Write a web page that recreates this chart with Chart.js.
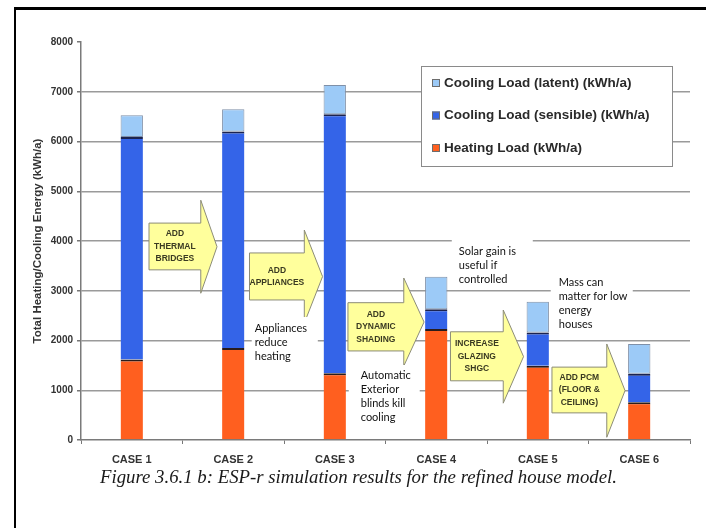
<!DOCTYPE html>
<html>
<head>
<meta charset="utf-8">
<title>ESP-r simulation results</title>
<script src="https://cdn.jsdelivr.net/npm/chart.js@4.4.1/dist/chart.umd.min.js"></script>
<style>
  html, body { margin: 0; padding: 0; background: #fff; }
  #wrap { position: relative; width: 706px; height: 528px; overflow: hidden; }
  #frame { position: absolute; left: 14px; top: 7px; right: -10px; bottom: -10px;
           border-top: 3px solid #000; border-left: 2px solid #000; pointer-events: none; }
  #caption { position: absolute; left: 100px; top: 466px; font: italic 18.8px 'Liberation Serif', 'Times New Roman', serif;
             color: #1a1a1a; white-space: nowrap; }
</style>
</head>
<body>
<div id="wrap">
  <canvas id="chart" width="706" height="528"></canvas>
  <div id="frame"></div>
  <div id="caption">Figure 3.6.1 b: ESP-r simulation results for the refined house model.</div>
</div>
<script>
// kWh/a per case, stacked bottom to top
const cases    = ['CASE 1', 'CASE 2', 'CASE 3', 'CASE 4', 'CASE 5', 'CASE 6'];
const heating  = [1620, 1850, 1340, 2230, 1490, 760];
const sensible = [4470, 4350, 5210, 400, 670, 570];
const latent   = [440, 450, 585, 650, 620, 600];
const yTicks   = [0, 1000, 2000, 3000, 4000, 5000, 6000, 7000, 8000];

// block arrows between cases (x in category index, y in kWh/a)
const steps = [
  { lines: ['ADD', 'THERMAL', 'BRIDGES'],      x: [0.17, 0.68, 0.84], body: [4360, 3420], head: [4820, 2950] },
  { lines: ['ADD', 'APPLIANCES'],              x: [1.16, 1.70, 1.88], body: [3760, 2815], head: [4220, 2350] },
  { lines: ['ADD', 'DYNAMIC', 'SHADING'],      x: [2.13, 2.68, 2.88], body: [2760, 1790], head: [3256, 1487] },
  { lines: ['INCREASE', 'GLAZING', 'SHGC'],    x: [3.14, 3.66, 3.86], body: [2175, 1190], head: [2613, 740] },
  { lines: ['ADD PCM', '(FLOOR &', 'CEILING)'], x: [4.14, 4.68, 4.86], body: [1465, 545],  head: [1930, 55] }
];

// commentary boxes
const notes = [
  { lines: ['Appliances', 'reduce', 'heating'],             box: [1.182, 1.833, 2472, 1367], tx: 1.212, ty: 2251 },
  { lines: ['Automatic', 'Exterior', 'blinds kill', 'cooling'], box: [2.138, 2.837, 1508, 201], tx: 2.256, ty: 1307 },
  { lines: ['Solar gain is', 'useful if', 'controlled'],    box: [3.153, 3.951, 4101, 3055], tx: 3.222, ty: 3799 },
  { lines: ['Mass can', 'matter for low', 'energy', 'houses'], box: [4.128, 4.936, 3377, 2131], tx: 4.207, ty: 3176 }
];

const annotate = {
  id: 'annotate',
  afterDatasetsDraw(chart) {
    const ctx = chart.ctx;
    const xs = chart.scales.x, ys = chart.scales.y;
    const px = v => xs.getPixelForValue(v);
    const py = v => ys.getPixelForValue(v);

    // arrows
    steps.forEach(s => {
      const x0 = px(s.x[0]), x1 = px(s.x[1]), x2 = px(s.x[2]);
      const bt = py(s.body[0]), bb = py(s.body[1]);
      const ht = py(s.head[0]), hb = py(s.head[1]);
      const tipY = (ht + hb) / 2;
      ctx.save();
      ctx.beginPath();
      ctx.moveTo(x0, bt);
      ctx.lineTo(x1, bt);
      ctx.lineTo(x1, ht);
      ctx.lineTo(x2, tipY);
      ctx.lineTo(x1, hb);
      ctx.lineTo(x1, bb);
      ctx.lineTo(x0, bb);
      ctx.closePath();
      ctx.fillStyle = '#ffff9c';
      ctx.fill();
      ctx.strokeStyle = '#8c8c78';
      ctx.lineWidth = 1;
      ctx.stroke();
      ctx.fillStyle = '#3a3a22';
      ctx.font = 'bold 8.5px "Liberation Sans", Arial, sans-serif';
      ctx.textAlign = 'center';
      ctx.textBaseline = 'middle';
      const cx = (x0 + x1) / 2, cy = (bt + bb) / 2;
      const lh = 12.5;
      s.lines.forEach((t, i) => {
        ctx.fillText(t, cx, cy + (i - (s.lines.length - 1) / 2) * lh);
      });
      ctx.restore();
    });

    // white text boxes
    notes.forEach(n => {
      const l = px(n.box[0]), r = px(n.box[1]);
      const t = py(n.box[2]), b = py(n.box[3]);
      ctx.save();
      ctx.fillStyle = '#fff';
      ctx.fillRect(l, t, r - l, b - t);
      ctx.fillStyle = '#111';
      ctx.font = '11px Lato, "Open Sans", sans-serif';
      ctx.textAlign = 'left';
      ctx.textBaseline = 'middle';
      const x = px(n.tx), y = py(n.ty);
      n.lines.forEach((line, i) => ctx.fillText(line, x, y + i * 14));
      ctx.restore();
    });

    // legend box (top series first)
    const lx = 421, ly = 66, lw = 251, lhgt = 100;
    ctx.save();
    ctx.fillStyle = '#fff';
    ctx.fillRect(lx, ly, lw, lhgt);
    ctx.strokeStyle = '#8a8a8a';
    ctx.lineWidth = 1;
    ctx.strokeRect(lx + 0.5, ly + 0.5, lw, lhgt);
    ctx.font = 'bold 13.5px "Liberation Sans", Arial, sans-serif';
    ctx.textAlign = 'left';
    ctx.textBaseline = 'middle';
    const ds = chart.data.datasets.slice().reverse();
    ds.forEach((d, i) => {
      const y = ly + 17 + i * 32.5;
      ctx.fillStyle = d.backgroundColor;
      ctx.fillRect(lx + 11, y - 4, 8, 8);
      ctx.strokeStyle = '#6d6d6d';
      ctx.strokeRect(lx + 11.5, y - 3.5, 7, 7);
      ctx.fillStyle = '#2a2a2a';
      ctx.fillText(d.label, lx + 23, y);
    });
    ctx.restore();
  }
};

new Chart(document.getElementById('chart'), {
  type: 'bar',
  data: {
    labels: cases,
    datasets: [
      { label: 'Heating Load (kWh/a)', data: heating, backgroundColor: '#ff5f1f',
        borderColor: '#2a1c1c', borderWidth: { top: 2 }, borderSkipped: false },
      { label: 'Cooling Load (sensible) (kWh/a)', data: sensible, backgroundColor: '#3464e8',
        borderColor: '#1c2450', borderWidth: { top: 2 }, borderSkipped: false },
      { label: 'Cooling Load (latent) (kWh/a)', data: latent, backgroundColor: '#9ccaf7',
        borderColor: '#7f90a8', borderWidth: 1, borderSkipped: false }
    ]
  },
  options: {
    responsive: false,
    animation: false,
    barPercentage: 0.22,
    categoryPercentage: 1.0,
    layout: { padding: { top: 42, right: 16, left: 0, bottom: 0 } },
    plugins: { legend: { display: false }, tooltip: { enabled: false } },
    scales: {
      x: {
        stacked: true,
        afterFit(scale) { scale.height = 88; },
        grid: { display: true, drawOnChartArea: false, offset: true, tickLength: 4, tickColor: '#777', color: '#777' },
        border: { color: '#7a7a7a', width: 1.5 },
        ticks: { color: '#333', padding: 9, font: { family: '"Liberation Sans", Arial', size: 11, weight: 'bold' } }
      },
      y: {
        stacked: true,
        min: 0,
        max: 8000,
        afterFit(scale) { scale.width = 81; },
        afterBuildTicks(scale) { scale.ticks = yTicks.map(v => ({ value: v })); },
        grid: {
          color: c => (c.tick && (c.tick.value === 0 || c.tick.value === 8000)) ? 'rgba(0,0,0,0)' : '#9a9a9a',
          lineWidth: 1.5,
          tickColor: '#777',
          tickLength: 4
        },
        border: { color: '#7a7a7a', width: 1.5 },
        ticks: {
          color: '#333',
          padding: 4,
          callback: v => String(v),
          font: { family: '"Liberation Sans", Arial', size: 10, weight: 'bold' }
        },
        title: {
          display: true,
          text: 'Total Heating/Cooling Energy (kWh/a)',
          color: '#333',
          padding: { top: 31, bottom: 0 },
          font: { family: '"Liberation Sans", Arial', size: 11.5, weight: 'bold' }
        }
      }
    }
  },
  plugins: [annotate]
});
</script>
</body>
</html>
